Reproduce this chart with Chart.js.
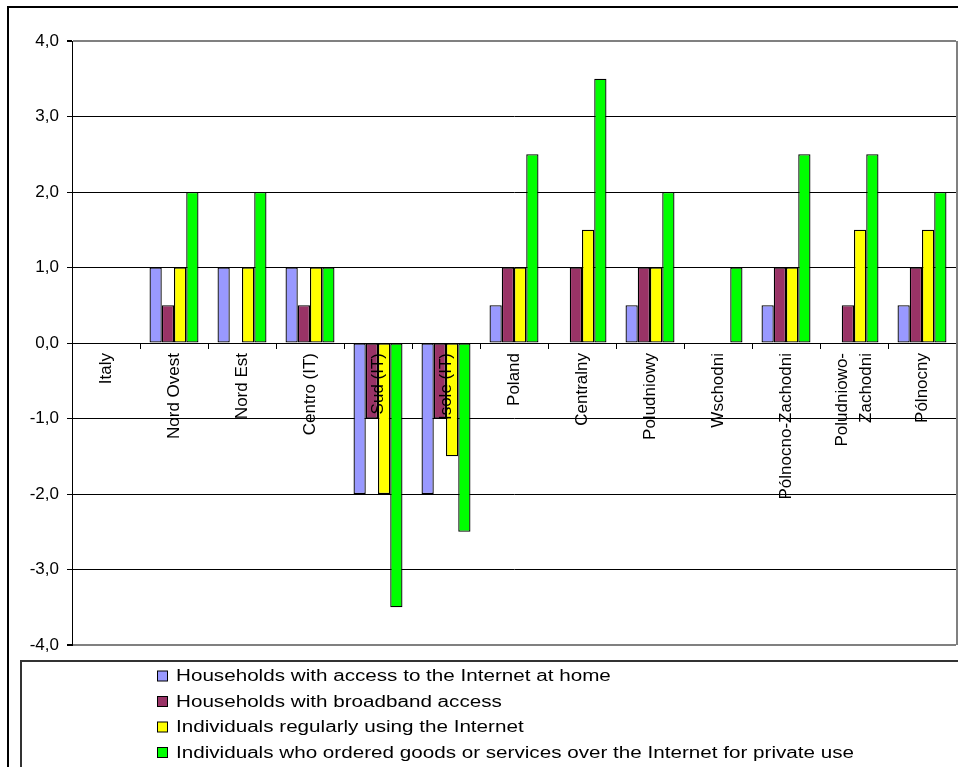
<!DOCTYPE html>
<html>
<head>
<meta charset="utf-8">
<title>Internet use by region</title>
<script src="https://cdn.jsdelivr.net/npm/chart.js@4.4.1/dist/chart.umd.min.js"></script>
<style>
  html, body { margin: 0; padding: 0; background: #ffffff; }
  #wrap { position: relative; width: 958px; height: 767px; overflow: hidden; }
  canvas { display: block; }
</style>
</head>
<body>
<div id="wrap"><canvas id="chart" width="958" height="767"></canvas></div>
<script>
// Regions (Italy and Poland with their NUTS-1 areas)
const categories = [
  'Italy', 'Nord Ovest', 'Nord Est', 'Centro (IT)', 'Sud (IT)', 'Isole (IT)',
  'Poland', 'Centralny', 'Poludniowy', 'Wschodni', 'Pólnocno-Zachodni',
  ['Poludniowo-', 'Zachodni'], 'Pólnocny'
];

const seriesNames = [
  'Households with access to the Internet at home',
  'Households with broadband access',
  'Individuals regularly using the Internet',
  'Individuals who ordered goods or services over the Internet for private use'
];

const accessHome      = [0, 1, 1, 1, -2, -2, 0.5, 0, 0.5, 0, 0.5, 0, 0.5];
const broadband       = [0, 0.5, 0, 0.5, -1, -1, 1, 1, 1, 0, 1, 0.5, 1];
const regularUsers    = [0, 1, 1, 1, -2, -1.5, 1, 1.5, 1, 0, 1, 1.5, 1.5];
const onlineShoppers  = [0, 2, 2, 1, -3.5, -2.5, 2.5, 3.5, 2, 1, 2.5, 2.5, 2];

const yTicks = [-4, -3, -2, -1, 0, 1, 2, 3, 4];

const seriesColors = ['#9999FF', '#993366', '#FFFF00', '#00FF00'];
const seriesValues = [accessHome, broadband, regularUsers, onlineShoppers];

const FONT = '"Liberation Sans", Arial, sans-serif';

// Category names written upright inside the plot, hanging from the zero line
const categoryLabels = {
  id: 'categoryLabels',
  afterDatasetsDraw(chart) {
    const { ctx, scales: { x, y } } = chart;
    const zeroY = y.getPixelForValue(0);
    ctx.save();
    ctx.fillStyle = '#000';
    ctx.font = '17px ' + FONT;
    ctx.textAlign = 'right';
    ctx.textBaseline = 'middle';
    categories.forEach((label, i) => {
      const lines = Array.isArray(label) ? label : [label];
      const cx = x.getPixelForValue(i);
      ctx.save();
      ctx.translate(cx, zeroY + 10);
      ctx.rotate(-Math.PI / 2);
      lines.forEach((line, j) => {
        ctx.fillText(line, 0, (j - (lines.length - 1) / 2) * 24);
      });
      ctx.restore();
    });
    ctx.restore();
  }
};

// Plot frame, outer chart frame and the boxed legend
const frameAndLegend = {
  id: 'frameAndLegend',
  beforeDatasetsDraw(chart) {
    const { ctx, chartArea: a } = chart;
    ctx.save();
    ctx.strokeStyle = '#808080';
    ctx.lineWidth = 2;
    ctx.beginPath();
    ctx.moveTo(a.right + 1, a.top);
    ctx.lineTo(a.right + 1, a.bottom);
    ctx.stroke();
    ctx.restore();
  },
  afterDraw(chart) {
    const { ctx, chartArea: a } = chart;
    ctx.save();
    // outer frame
    ctx.strokeStyle = '#000';
    ctx.lineWidth = 2;
    ctx.strokeRect(8, 7, chart.width + 20, chart.height + 20);
    // legend frame
    ctx.strokeStyle = '#333';
    ctx.lineWidth = 2;
    const boxTop = a.bottom + 16;
    ctx.strokeRect(21, boxTop, chart.width + 20, chart.height + 20);
    // legend entries
    ctx.font = '16px ' + FONT;
    ctx.textBaseline = 'middle';
    ctx.textAlign = 'left';
    chart.data.datasets.forEach((ds, i) => {
      const cy = boxTop + 15 + i * 25.5;
      ctx.fillStyle = ds.backgroundColor;
      ctx.fillRect(157.5, cy - 5, 10, 10);
      ctx.strokeStyle = '#000';
      ctx.lineWidth = 1;
      ctx.strokeRect(157.5, cy - 5, 10, 10);
      ctx.fillStyle = '#000';
      ctx.save();
      ctx.translate(176, cy + 1);
      ctx.scale(1.29, 1);
      ctx.fillText(ds.label, 0, 0);
      ctx.restore();
    });
    ctx.restore();
  }
};

new Chart(document.getElementById('chart'), {
  type: 'bar',
  data: {
    labels: categories,
    datasets: seriesNames.map((name, i) => ({
      label: name,
      data: seriesValues[i],
      backgroundColor: seriesColors[i],
      borderColor: '#000000',
      borderWidth: 1.3,
      borderSkipped: false,
      categoryPercentage: 0.72,
      barPercentage: 1.0
    }))
  },
  options: {
    responsive: false,
    animation: false,
    devicePixelRatio: 1,
    layout: { padding: { top: 41, right: 2, bottom: 122, left: 0 } },
    plugins: {
      legend: { display: false },
      tooltip: { enabled: false },
      title: { display: false }
    },
    scales: {
      x: {
        type: 'category',
        position: { y: 0 },
        offset: true,
        grid: {
          offset: true,
          drawOnChartArea: false,
          drawTicks: true,
          tickLength: 5,
          color: '#000000',
          lineWidth: 1
        },
        border: { display: true, color: '#000000', width: 1 },
        ticks: { display: false }
      },
      y: {
        min: -4,
        max: 4,
        afterBuildTicks(scale) {
          scale.ticks = yTicks.map(v => ({ value: v }));
        },
        afterFit(scale) { scale.width = 72; },
        grid: {
          color: (c) => (c.tick && Math.abs(c.tick.value) === 4) ? '#808080' : '#000000',
          lineWidth: (c) => (c.tick && Math.abs(c.tick.value) === 4) ? 2 : 1,
          tickColor: '#000000',
          tickLength: 5,
          drawTicks: true
        },
        border: { display: true, color: '#000000', width: 1 },
        ticks: {
          color: '#000000',
          font: { family: FONT, size: 17 },
          padding: 8,
          callback: (v) => Number(v).toFixed(1).replace('.', ',')
        }
      }
    }
  },
  plugins: [categoryLabels, frameAndLegend]
});
</script>
</body>
</html>
